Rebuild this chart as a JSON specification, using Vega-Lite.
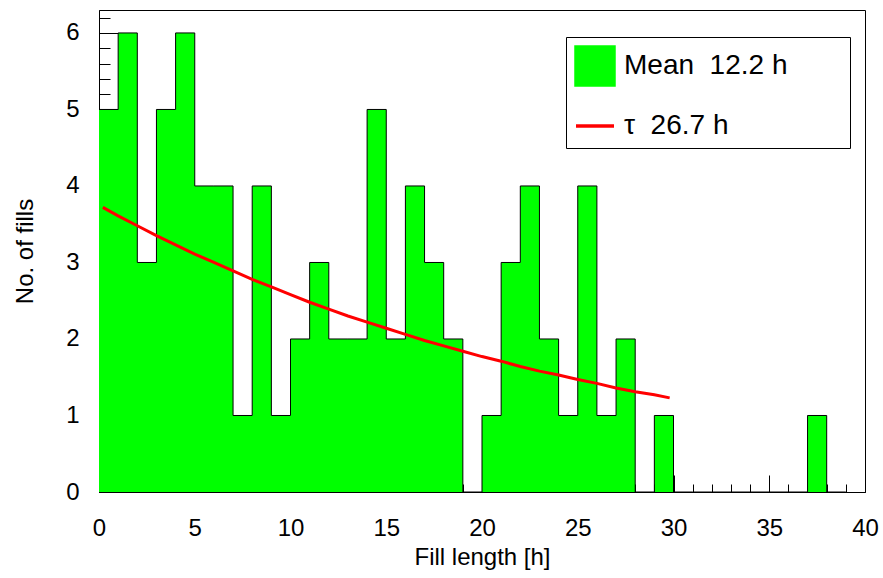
{
  "$schema": "https://vega.github.io/schema/vega-lite/v6.json",
  "width": 766,
  "height": 482,
  "autosize": {"type": "none"},
  "padding": {"left": 99, "top": 10, "right": 18, "bottom": 86},
  "background": "white",
  "datasets": {
    "hist": [
      {"lo": 0, "hi": 1, "n": 5}, {"lo": 1, "hi": 2, "n": 6}, {"lo": 2, "hi": 3, "n": 3}, {"lo": 3, "hi": 4, "n": 5},
      {"lo": 4, "hi": 5, "n": 6}, {"lo": 5, "hi": 6, "n": 4}, {"lo": 6, "hi": 7, "n": 4}, {"lo": 7, "hi": 8, "n": 1},
      {"lo": 8, "hi": 9, "n": 4}, {"lo": 9, "hi": 10, "n": 1}, {"lo": 10, "hi": 11, "n": 2}, {"lo": 11, "hi": 12, "n": 3},
      {"lo": 12, "hi": 13, "n": 2}, {"lo": 13, "hi": 14, "n": 2}, {"lo": 14, "hi": 15, "n": 5}, {"lo": 15, "hi": 16, "n": 2},
      {"lo": 16, "hi": 17, "n": 4}, {"lo": 17, "hi": 18, "n": 3}, {"lo": 18, "hi": 19, "n": 2}, {"lo": 19, "hi": 20, "n": 0},
      {"lo": 20, "hi": 21, "n": 1}, {"lo": 21, "hi": 22, "n": 3}, {"lo": 22, "hi": 23, "n": 4}, {"lo": 23, "hi": 24, "n": 2},
      {"lo": 24, "hi": 25, "n": 1}, {"lo": 25, "hi": 26, "n": 4}, {"lo": 26, "hi": 27, "n": 1}, {"lo": 27, "hi": 28, "n": 2},
      {"lo": 28, "hi": 29, "n": 0}, {"lo": 29, "hi": 30, "n": 1}, {"lo": 30, "hi": 31, "n": 0}, {"lo": 31, "hi": 32, "n": 0},
      {"lo": 32, "hi": 33, "n": 0}, {"lo": 33, "hi": 34, "n": 0}, {"lo": 34, "hi": 35, "n": 0}, {"lo": 35, "hi": 36, "n": 0},
      {"lo": 36, "hi": 37, "n": 0}, {"lo": 37, "hi": 38, "n": 1}, {"lo": 38, "hi": 39, "n": 0}, {"lo": 39, "hi": 40, "n": 0}
    ],
    "fit": [
      {"t": 0.2, "f": 3.72}, {"t": 1, "f": 3.61}, {"t": 2, "f": 3.48}, {"t": 3, "f": 3.35}, {"t": 4, "f": 3.23},
      {"t": 5, "f": 3.11}, {"t": 6, "f": 3.0}, {"t": 7, "f": 2.89}, {"t": 8, "f": 2.78}, {"t": 9, "f": 2.68},
      {"t": 10, "f": 2.58}, {"t": 11, "f": 2.48}, {"t": 12, "f": 2.39}, {"t": 13, "f": 2.3}, {"t": 14, "f": 2.22},
      {"t": 15, "f": 2.14}, {"t": 16, "f": 2.06}, {"t": 17, "f": 1.98}, {"t": 18, "f": 1.91}, {"t": 19, "f": 1.84},
      {"t": 20, "f": 1.77}, {"t": 21, "f": 1.71}, {"t": 22, "f": 1.64}, {"t": 23, "f": 1.58}, {"t": 24, "f": 1.53},
      {"t": 25, "f": 1.47}, {"t": 26, "f": 1.42}, {"t": 27, "f": 1.36}, {"t": 28, "f": 1.31}, {"t": 29, "f": 1.27},
      {"t": 29.8, "f": 1.23}
    ],
    "keys": [
      {"k": "Mean\u00a0\u00a012.2\u00a0h"},
      {"k": "\u03c4\u00a0\u00a026.7\u00a0h"}
    ]
  },
  "layer": [
    {
      "data": {"name": "hist"},
      "mark": {"type": "area", "interpolate": "step-after", "color": "#00ff00", "opacity": 1},
      "encoding": {
        "x": {
          "field": "lo", "type": "quantitative",
          "scale": {"domain": [0, 40], "nice": false, "zero": false},
          "axis": {
            "title": "Fill length [h]",
            "values": [0,1,2,3,4,5,6,7,8,9,10,11,12,13,14,15,16,17,18,19,20,21,22,23,24,25,26,27,28,29,30,31,32,33,34,35,36,37,38,39,40],
            "tickCount": 1000,
            "tickSize": {"condition": {"test": "datum.value % 5 === 0", "value": -17}, "value": -8},
            "labelExpr": "datum.value % 5 === 0 ? format(datum.value, 'd') : ''",
            "labelPadding": 41,
            "titlePadding": -4
          }
        },
        "y": {
          "field": "n", "type": "quantitative",
          "scale": {"domain": [0, 6.3], "nice": false},
          "axis": {
            "title": "No. of fills",
            "values": [0,0.2,0.4,0.6,0.8,1,1.2,1.4,1.6,1.8,2,2.2,2.4,2.6,2.8,3,3.2,3.4,3.6,3.8,4,4.2,4.4,4.6,4.8,5,5.2,5.4,5.6,5.8,6,6.2],
            "tickCount": 1000,
            "tickSize": {"condition": {"test": "abs(datum.value - round(datum.value)) < 0.01", "value": -21}, "value": -11},
            "labelExpr": "abs(datum.value - round(datum.value)) < 0.01 ? format(datum.value, 'd') : ''",
            "labelPadding": 41,
            "titlePadding": 28
          }
        }
      }
    },
    {
      "data": {"name": "hist"},
      "mark": {"type": "line", "interpolate": "step-after", "color": "black", "strokeWidth": 1},
      "encoding": {
        "x": {"field": "lo", "type": "quantitative"},
        "y": {"field": "n", "type": "quantitative"}
      }
    },
    {
      "data": {"name": "fit"},
      "mark": {"type": "line", "strokeWidth": 3, "color": "#ff0000"},
      "encoding": {
        "x": {"field": "t", "type": "quantitative"},
        "y": {"field": "f", "type": "quantitative"}
      }
    },
    {
      "data": {"name": "keys"},
      "mark": {"type": "point", "filled": false, "fill": "#00ff00", "strokeWidth": 3.5, "opacity": 0},
      "encoding": {
        "x": {"datum": 0, "type": "quantitative"},
        "y": {"datum": 0, "type": "quantitative"},
        "color": {
          "field": "k",
          "type": "nominal",
          "scale": {"domain": ["Mean\u00a0\u00a012.2\u00a0h", "\u03c4\u00a0\u00a026.7\u00a0h"], "range": ["#00ff00", "#ff0000"]},
          "legend": {
            "orient": "none",
            "legendX": 467,
            "legendY": 27,
            "title": null,
            "padding": 8,
            "strokeColor": "black",
            "fillColor": "white",
            "rowPadding": 13,
            "symbolSize": 1444,
            "symbolStrokeWidth": 3.5,
            "symbolOpacity": 1,
            "labelFontSize": 28,
            "labelFont": "Liberation Sans",
            "labelColor": "black",
            "labelOffset": 8,
            "labelLimit": 500,
            "labelExpr": "datum.label + '\u00a0\u00a0\u00a0\u00a0\u00a0\u00a0\u00a0\u200b'"
          }
        },
        "shape": {
          "field": "k",
          "type": "nominal",
          "scale": {"domain": ["Mean\u00a0\u00a012.2\u00a0h", "\u03c4\u00a0\u00a026.7\u00a0h"], "range": ["square", "stroke"]},
          "legend": {
            "orient": "none",
            "legendX": 467,
            "legendY": 27,
            "title": null,
            "padding": 8,
            "strokeColor": "black",
            "fillColor": "white",
            "rowPadding": 13,
            "symbolSize": 1444,
            "symbolStrokeWidth": 3.5,
            "symbolOpacity": 1,
            "labelFontSize": 28,
            "labelFont": "Liberation Sans",
            "labelColor": "black",
            "labelOffset": 8,
            "labelLimit": 500,
            "labelExpr": "datum.label + '\u00a0\u00a0\u00a0\u00a0\u00a0\u00a0\u00a0\u200b'"
          }
        }
      }
    }
  ],
  "config": {
    "view": {"stroke": "black", "strokeWidth": 1},
    "axis": {
      "grid": false,
      "domainColor": "black",
      "domainWidth": 1,
      "tickColor": "black",
      "tickWidth": 1,
      "labelFont": "Liberation Sans",
      "labelFontSize": 24,
      "labelColor": "black",
      "labelFlush": false,
      "labelOverlap": false,
      "labelBound": false,
      "titleFont": "Liberation Sans",
      "titleFontSize": 24,
      "titleFontWeight": "normal",
      "titleColor": "black"
    }
  }
}
